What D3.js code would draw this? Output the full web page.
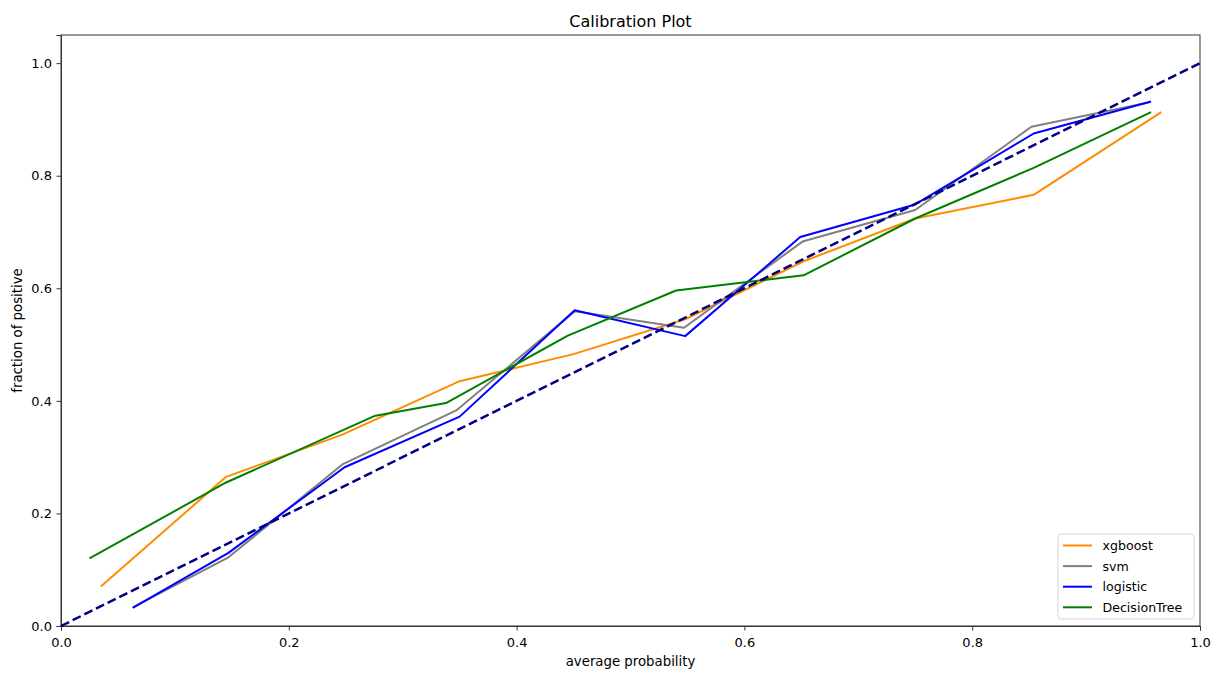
<!doctype html>
<html>
<head>
<meta charset="utf-8">
<style>
	body {
		margin: 0;
		background: #fff;
	}
	text {
		font-family: "DejaVu Sans", sans-serif;
		fill: #000;
	}
	.tick line, .domain {
		stroke: #333;
	}
	.curve {
		fill: none;
		stroke-width: 2px;
		stroke-linejoin: round;
	}
	.diag {
		fill: none;
		stroke: navy;
		stroke-width: 2.5px;
		stroke-dasharray: 9, 4;
	}
</style>
<script src="https://cdnjs.cloudflare.com/ajax/libs/d3/7.8.5/d3.min.js"></script>
</head>
<body>
<div id="canvas"></div>
<script>
	// values
	var models = ["xgboost", "svm", "logistic", "DecisionTree"];
	var colors = ["darkorange", "grey", "blue", "green"];

	var xgb_x = [0.035, 0.145, 0.247, 0.350, 0.450, 0.548, 0.652, 0.750, 0.854, 0.966];
	var xgb_y = [0.070, 0.265, 0.340, 0.435, 0.483, 0.545, 0.648, 0.724, 0.766, 0.913];

	var svm_x = [0.063, 0.147, 0.247, 0.347, 0.451, 0.547, 0.651, 0.750, 0.852, 0.955];
	var svm_y = [0.033, 0.122, 0.287, 0.383, 0.559, 0.530, 0.683, 0.739, 0.887, 0.930];

	var log_x = [0.063, 0.147, 0.249, 0.350, 0.451, 0.548, 0.649, 0.750, 0.854, 0.957];
	var log_y = [0.032, 0.130, 0.282, 0.372, 0.561, 0.515, 0.691, 0.749, 0.875, 0.932];

	var tree_x = [0.025, 0.145, 0.275, 0.338, 0.445, 0.540, 0.652, 0.750, 0.854, 0.957];
	var tree_y = [0.120, 0.255, 0.373, 0.396, 0.516, 0.596, 0.623, 0.724, 0.814, 0.913];

	var xTicks = [0.0, 0.2, 0.4, 0.6, 0.8, 1.0];
	var yTicks = [0.0, 0.2, 0.4, 0.6, 0.8, 1.0];

	var width = 1218,
		height = 675,
		margin = {top: 35, right: 18, bottom: 49, left: 61};

	var series = [
		{name: models[0], color: colors[0], xs: xgb_x, ys: xgb_y},
		{name: models[1], color: colors[1], xs: svm_x, ys: svm_y},
		{name: models[2], color: colors[2], xs: log_x, ys: log_y},
		{name: models[3], color: colors[3], xs: tree_x, ys: tree_y}
	];

	var svg = d3.select("#canvas")
		.append("svg")
		.attr("width", width)
		.attr("height", height);

	var scale_x = d3.scaleLinear()
		.domain([0, 1])
		.range([margin.left, width - margin.right]);

	var scale_y = d3.scaleLinear()
		.domain([0, 1.05])
		.range([height - margin.bottom, margin.top]);

	var line = d3.line()
		.x(d => scale_x(d[0]))
		.y(d => scale_y(d[1]));

	// frame
	svg.append("rect")
		.attr("x", scale_x(0))
		.attr("y", scale_y(1.05))
		.attr("width", scale_x(1) - scale_x(0))
		.attr("height", scale_y(0) - scale_y(1.05))
		.attr("fill", "none")
		.attr("stroke", "#333")
		.attr("stroke-width", 1);

	svg.append("g")
		.attr("transform", `translate(0, ${scale_y(0)})`)
		.call(d3.axisBottom(scale_x).tickValues(xTicks).tickFormat(d3.format(".1f")).tickSizeOuter(0).tickSize(4.5).tickPadding(7));

	svg.append("g")
		.attr("transform", `translate(${scale_x(0)}, 0)`)
		.call(d3.axisLeft(scale_y).tickValues(yTicks).tickFormat(d3.format(".1f")).tickSizeOuter(0).tickSize(4.5).tickPadding(4.5));

	svg.selectAll(".tick text").style("font-size", "13px").style("font-family", "DejaVu Sans");

	// curves
	series.forEach(function(s) {
		svg.append("path")
			.datum(s.xs.map((x, i) => [x, s.ys[i]]))
			.attr("class", "curve")
			.attr("stroke", s.color)
			.attr("d", line);
	});

	// perfect calibration
	svg.append("path")
		.datum([[0, 0], [1, 1]])
		.attr("class", "diag")
		.attr("d", line);

	// title and labels
	svg.append("text")
		.attr("x", (scale_x(0) + scale_x(1)) / 2)
		.attr("y", 26.5)
		.attr("text-anchor", "middle")
		.style("font-size", "16px")
		.text("Calibration Plot");

	svg.append("text")
		.attr("x", (scale_x(0) + scale_x(1)) / 2)
		.attr("y", 665.5)
		.attr("text-anchor", "middle")
		.style("font-size", "13.3px")
		.text("average probability");

	svg.append("text")
		.attr("transform", `translate(22, ${(scale_y(0) + scale_y(1.05)) / 2}) rotate(-90)`)
		.attr("text-anchor", "middle")
		.style("font-size", "13.3px")
		.text("fraction of positive");

	// legend
	var lgd = svg.append("g")
		.attr("transform", "translate(1058, 534)");

	lgd.append("rect")
		.attr("width", 136)
		.attr("height", 85)
		.attr("rx", 3)
		.attr("fill", "white")
		.attr("fill-opacity", 0.8)
		.attr("stroke", "#d6d6d6");

	series.forEach(function(s, i) {
		var yy = 11.5 + i * 20.6;
		lgd.append("line")
			.attr("x1", 5)
			.attr("x2", 34)
			.attr("y1", yy)
			.attr("y2", yy)
			.attr("stroke", s.color)
			.attr("stroke-width", 2);
		lgd.append("text")
			.attr("x", 44.5)
			.attr("y", yy + 4.5)
			.style("font-size", "12.6px")
			.text(s.name);
	});
</script>
</body>
</html>
